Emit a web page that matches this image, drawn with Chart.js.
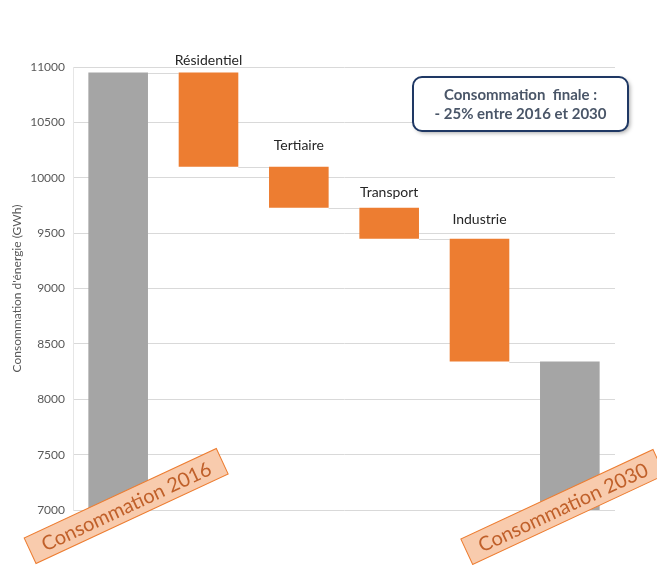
<!DOCTYPE html>
<html lang="fr">
<head>
<meta charset="utf-8">
<title>Consommation d'énergie 2016 - 2030</title>
<script src="https://cdn.jsdelivr.net/npm/chart.js@4.4.1/dist/chart.umd.min.js"></script>
<style>
  html, body { margin: 0; padding: 0; background: #fff; }
  #cadre { position: relative; width: 657px; height: 565px; }
</style>
</head>
<body>
<div id="cadre"><canvas id="graphique"></canvas></div>
<script>
// Bilan de consommation finale (GWh)
const categories = ['Consommation 2016', 'Résidentiel', 'Tertiaire', 'Transport', 'Industrie', 'Consommation 2030']
const etiquettesSecteurs = ['', 'Résidentiel', 'Tertiaire', 'Transport', 'Industrie', '']
const conso2016 = 10950
const baisses = [850, 370, 280, 1110]
const conso2030 = 8340
const graduations = { min: 7000, max: 11000, pas: 500 }

// barres flottantes : total de départ, baisses successives, total d'arrivée
const plages = [[0, conso2016]]
let niveau = conso2016
baisses.forEach(b => {
    plages.push([niveau - b, niveau])
    niveau -= b
})
plages.push([0, conso2030])

const GRIS = '#a5a5a5'
const ORANGE = '#ed7d31'
const couleurs = plages.map((p, i) => (i === 0 || i === plages.length - 1) ? GRIS : ORANGE)

Chart.defaults.font.family = 'Lato, "Open Sans", sans-serif'

// traits de liaison entre les barres
const liaisons = {
    id: 'liaisons',
    beforeDatasetsDraw(chart) {
        const barres = chart.getDatasetMeta(0).data
        const y = chart.scales.y
        const ctx = chart.ctx
        ctx.save()
        ctx.strokeStyle = '#d9d9d9'
        ctx.lineWidth = 1
        for (let i = 0; i < barres.length - 1; i++) {
            const niv = (i === 0) ? plages[0][1] : plages[i][0]
            const py = Math.round(y.getPixelForValue(niv)) + 0.5
            ctx.beginPath()
            ctx.moveTo(barres[i].x + barres[i].width / 2, py)
            ctx.lineTo(barres[i + 1].x - barres[i + 1].width / 2, py)
            ctx.stroke()
        }
        ctx.restore()
    }
}

// noms des secteurs au-dessus des barres orange
const nomsSecteurs = {
    id: 'nomsSecteurs',
    afterDatasetsDraw(chart, args, opts) {
        const barres = chart.getDatasetMeta(0).data
        const ctx = chart.ctx
        ctx.save()
        ctx.font = '14px Lato'
        ctx.fillStyle = '#262626'
        ctx.textAlign = 'center'
        ctx.textBaseline = 'bottom'
        barres.forEach((b, i) => {
            if (!etiquettesSecteurs[i]) return
            const haut = Math.min(b.y, b.base)
            ctx.fillText(etiquettesSecteurs[i], b.x, haut - opts.ecarts[i])
        })
        ctx.restore()
    }
}

// cartouches inclinés et encadré de synthèse
const annotations = {
    id: 'annotations',
    afterDraw(chart) {
        const ctx = chart.ctx
        const x = chart.scales.x
        const bas = chart.chartArea.bottom

        const cartouche = (texte, cx, cy) => {
            ctx.save()
            ctx.translate(cx, cy)
            ctx.rotate(-25 * Math.PI / 180)
            ctx.fillStyle = '#f8cbad'
            ctx.strokeStyle = '#ed7d31'
            ctx.lineWidth = 1
            ctx.fillRect(-106, -14, 212, 28)
            ctx.strokeRect(-106, -14, 212, 28)
            ctx.fillStyle = '#c0602a'
            ctx.font = '20px Lato'
            ctx.textAlign = 'center'
            ctx.textBaseline = 'middle'
            ctx.fillText(texte, 0, 1)
            ctx.restore()
        }
        cartouche(categories[0], x.getPixelForValue(0) + 8, bas - 4)
        cartouche(categories[5], x.getPixelForValue(5) - 7, bas - 3)

        // encadré
        const bx = 413, by = 77, bw = 215, bh = 54, r = 9
        ctx.save()
        ctx.shadowColor = 'rgba(0,0,0,0.35)'
        ctx.shadowBlur = 4
        ctx.shadowOffsetX = 2
        ctx.shadowOffsetY = 2
        ctx.beginPath()
        ctx.roundRect(bx, by, bw, bh, r)
        ctx.fillStyle = '#fff'
        ctx.fill()
        ctx.shadowColor = 'transparent'
        ctx.strokeStyle = '#1f3864'
        ctx.lineWidth = 2
        ctx.stroke()
        ctx.fillStyle = '#4a5668'
        ctx.font = 'bold 15px Lato'
        ctx.textAlign = 'center'
        ctx.textBaseline = 'middle'
        ctx.fillText('Consommation  finale :', bx + bw / 2, by + 18)
        ctx.fillText('- 25% entre 2016 et 2030', bx + bw / 2, by + 37)
        ctx.restore()
    }
}

new Chart(document.getElementById('graphique'), {
    type: 'bar',
    data: {
        labels: categories,
        datasets: [{
            data: plages,
            backgroundColor: couleurs,
            borderWidth: 0,
            barPercentage: 0.66,
            categoryPercentage: 1
        }]
    },
    options: {
        responsive: true,
        maintainAspectRatio: false,
        animation: false,
        layout: { padding: { top: 67, right: 42, bottom: 55, left: 0 } },
        plugins: {
            legend: { display: false },
            tooltip: { enabled: false },
            nomsSecteurs: { ecarts: [0, 5, 14, 8, 12, 0] }
        },
        scales: {
            x: { display: false },
            y: {
                min: graduations.min,
                max: graduations.max,
                ticks: {
                    stepSize: graduations.pas,
                    color: '#595959',
                    font: { size: 12 },
                    padding: 8,
                    callback: v => String(v)
                },
                grid: { color: '#d9d9d9', drawTicks: false },
                border: { color: '#e6e6e6' },
                title: {
                    display: true,
                    text: "Consommation d'énergie (GWh)",
                    color: '#595959',
                    font: { size: 12 },
                    padding: { top: 10, bottom: 0 }
                },
                afterFit(scale) { scale.width = 73 }
            }
        }
    },
    plugins: [liaisons, nomsSecteurs, annotations]
})
</script>
</body>
</html>
